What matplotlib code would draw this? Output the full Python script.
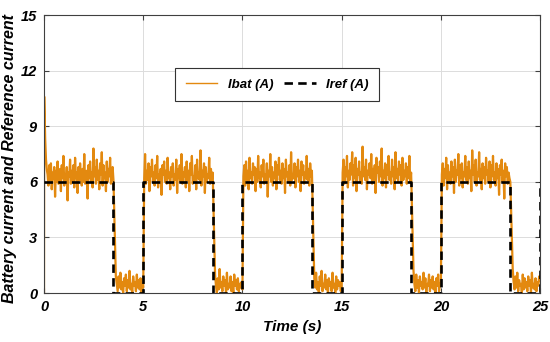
import numpy as np
import matplotlib
matplotlib.use('Agg')
import matplotlib.pyplot as plt

plt.rcParams['font.family'] = ['Liberation Sans', 'DejaVu Sans']
plt.rcParams['font.weight'] = 'bold'
plt.rcParams['font.style'] = 'italic'
plt.rcParams['axes.labelweight'] = 'bold'

# ---------------- data
t_start = [0.0, 0.01, 0.03, 0.06, 0.10, 0.15]
i_start = [0.0, 10.6, 9.7, 8.3, 7.2, 6.6]

ibat_hi = [
    [6.4, 5.8, 6.9, 6.1, 7.0, 5.6, 6.5, 6.2, 6.8, 5.2, 6.6, 6.0, 7.1, 5.9, 6.3, 6.7,
     5.5, 6.9, 6.2, 7.4, 5.8, 6.4, 6.1, 6.8, 5.0, 6.5, 6.3, 7.2, 5.9, 6.6, 6.0, 6.9,
     5.7, 7.3, 6.2, 6.5, 5.4, 6.8, 6.1, 7.0, 6.3, 5.8, 6.7, 6.0, 7.5, 5.9, 6.4, 6.6,
     5.1, 6.9, 6.2, 7.1, 6.0, 6.5, 5.7, 7.8, 6.3, 6.8, 5.9, 7.2, 6.1, 6.6, 5.6, 7.0,
     6.4, 7.6, 5.8, 6.9, 6.2, 6.5, 5.5, 7.1, 6.0, 6.7, 6.3, 7.3, 5.9, 6.4, 6.8, 6.1],
    [6.2, 7.5, 5.9, 6.6, 6.1, 7.0, 5.5, 6.8, 6.3, 7.2, 6.0, 6.5, 5.8, 6.9, 6.2, 7.4,
     5.7, 6.4, 6.1, 6.7, 5.3, 6.9, 6.4, 7.1, 6.0, 6.6, 5.9, 7.3, 6.2, 6.5, 5.6, 6.8,
     6.3, 7.0, 5.8, 6.4, 6.1, 7.2, 5.4, 6.7, 6.2, 6.9, 6.0, 7.5, 5.9, 6.5, 6.3, 6.8,
     5.7, 7.1, 6.1, 6.6, 5.5, 7.0, 6.4, 7.4, 5.9, 6.3, 6.0, 6.9, 5.6, 7.2, 6.2, 6.5,
     6.1, 7.7, 5.8, 6.6, 6.3, 7.0, 5.4, 6.8, 6.0, 6.4, 6.2, 7.3, 5.9, 6.7, 6.1, 6.5],
    [6.3, 6.9, 5.8, 7.1, 6.1, 6.6, 5.6, 7.3, 6.2, 6.5, 5.9, 7.0, 6.4, 6.8, 5.5, 6.7,
     6.0, 7.4, 6.2, 6.5, 5.7, 6.9, 6.3, 7.2, 5.9, 6.4, 6.1, 7.0, 5.2, 6.6, 6.3, 7.5,
     6.0, 6.8, 5.8, 6.5, 6.2, 7.1, 5.6, 6.9, 6.4, 7.3, 6.1, 6.6, 5.9, 7.0, 6.2, 6.7,
     5.4, 7.2, 6.3, 6.5, 6.0, 6.9, 5.8, 7.6, 6.1, 6.4, 6.2, 7.0, 5.7, 6.8, 6.3, 7.2,
     6.0, 6.6, 5.5, 7.1, 6.4, 6.9, 5.9, 6.5, 6.2, 7.4, 6.1, 6.7, 5.8, 7.0, 6.3, 6.6],
    [6.5, 7.2, 5.9, 6.8, 6.3, 7.4, 5.7, 6.6, 6.1, 7.0, 6.4, 7.6, 5.8, 6.9, 6.2, 7.3,
     5.5, 6.7, 6.4, 7.1, 6.0, 6.5, 5.9, 7.9, 6.3, 6.8, 6.1, 7.2, 5.6, 6.6, 6.4, 7.0,
     6.2, 7.5, 5.9, 6.7, 6.1, 6.9, 5.4, 7.3, 6.5, 6.8, 6.0, 7.1, 6.3, 7.8, 5.8, 6.6,
     6.2, 7.0, 5.7, 6.9, 6.4, 7.4, 6.1, 6.5, 5.9, 7.2, 6.3, 6.8, 5.6, 7.6, 6.2, 6.7,
     6.0, 7.1, 6.4, 6.9, 5.8, 7.3, 6.1, 6.6, 6.3, 7.0, 5.9, 6.8, 6.2, 7.4, 6.0, 6.5],
    [6.4, 7.0, 5.8, 6.7, 6.2, 7.3, 5.6, 6.9, 6.1, 6.5, 5.9, 7.1, 6.3, 6.8, 5.4, 7.2,
     6.0, 6.6, 6.4, 7.5, 5.8, 6.9, 6.2, 7.0, 5.7, 6.5, 6.3, 7.4, 6.1, 6.8, 5.9, 7.1,
     6.2, 6.6, 5.5, 7.7, 6.4, 6.9, 6.0, 7.2, 5.8, 6.5, 6.3, 7.6, 6.1, 6.7, 5.6, 7.0,
     6.2, 6.8, 5.9, 7.3, 6.4, 6.6, 6.0, 7.1, 5.7, 6.9, 6.3, 7.4, 6.1, 6.5, 5.8, 7.0,
     6.2, 6.7, 5.3, 6.9, 6.4, 7.2, 6.0, 6.6, 5.1, 7.0, 6.3, 6.8, 5.9, 6.5, 6.2, 6.0],
]

ibat_lo = [
    [0.9, 0.5, 0.1, 0.9, 0.3, 1.1, 0.2, 0.6, 0.0, 0.8, 0.4, 1.0, 0.1, 0.7, 0.3, 1.2,
     0.2, 0.5, 0.0, 0.9, 0.4, 0.6, 0.1, 1.0, 0.3, 0.7, 0.2, 0.8, 0.0, 0.5, 0.3],
    [1.0, 0.4, 0.0, 0.8, 0.2, 1.3, 0.3, 0.6, 0.1, 0.9, 0.4, 0.7, 0.0, 1.1, 0.2, 0.5,
     0.3, 0.9, 0.1, 0.6, 0.0, 1.0, 0.4, 0.7, 0.2, 0.8, 0.1, 0.5, 0.3, 0.6, 0.2],
    [0.8, 0.3, 1.1, 0.2, 0.6, 0.0, 0.9, 0.4, 1.2, 0.1, 0.5, 0.3, 1.0, 0.2, 0.7, 0.0,
     0.8, 0.4, 0.6, 0.1, 1.1, 0.3, 0.5, 0.0, 0.9, 0.2, 0.7, 0.4, 0.6, 0.1, 0.3],
    [1.2, 0.5, 0.1, 1.0, 0.3, 0.7, 0.0, 0.9, 0.4, 0.6, 0.2, 1.1, 0.3, 0.8, 0.0, 0.5,
     0.4, 1.0, 0.1, 0.7, 0.3, 0.9, 0.2, 0.6, 0.0, 0.8, 0.4, 1.0, 0.1, 0.5, 0.4],
    [1.3, 0.6, 0.2, 0.9, 0.3, 1.1, 0.1, 0.7, 0.4, 0.5, 0.0, 1.0, 0.2, 0.8, 0.3, 0.6,
     0.1, 0.9, 0.4, 0.7, 0.0, 1.1, 0.3, 0.5, 0.2, 0.8, 0.1, 0.6, 0.4, 0.9, 0.7],
]

t_ref = [0, 3.5, 5, 8.5, 10, 13.5, 15, 18.5, 20, 23.5, 25]
i_ref = [6, 0, 6, 0, 6, 0, 6, 0, 6, 0, 6]

# ---------------- build Ibat trace
t_log = list(t_start)
y_log = list(i_start)
for k in range(5):
    t0 = 5.0 * k
    hi = ibat_hi[k]
    lo = ibat_lo[k]
    ts = t0 + (0.18 if k == 0 else 0.05)
    t_log += list(np.linspace(ts, t0 + 3.5, len(hi)))
    y_log += hi
    t_log += list(np.linspace(t0 + 3.62, t0 + 5.0, len(lo)))
    y_log += lo

# ---------------- figure
fig = plt.figure(figsize=(5.5, 3.42), dpi=100)
ax0 = fig.add_axes([0.08, 0.143, 0.902, 0.813])

ax0.plot(t_log, y_log, '-', color='#E3890F', lw=1.6, label='Ibat (A)', zorder=2)
ax0.plot(t_ref, i_ref, '-k', lw=1.9, dashes=(3.2, 2.0), drawstyle='steps-post',
         label='Iref (A)', zorder=3)

ax0.set_xlim(0, 25)
ax0.set_ylim(0, 15)
ax0.set_xticks([0, 5, 10, 15, 20, 25])
ax0.set_yticks([0, 3, 6, 9, 12, 15])
ax0.grid(True, color='#dcdcdc', lw=0.7)
ax0.set_axisbelow(True)

for sp in ax0.spines.values():
    sp.set_color('#404040')
    sp.set_linewidth(0.8)
ax0.tick_params(direction='in', length=3.5, width=0.8, color='#404040',
                labelsize=10.5, top=True, right=True, pad=5)

ax0.set_xlabel('Time (s)', fontsize=11, fontweight='bold', labelpad=4)
ax0.set_ylabel('Battery current and Reference current', fontsize=11.5,
               fontweight='bold')
ax0.yaxis.set_label_coords(-0.055, 0.484)

leg = ax0.legend(loc='center', ncol=2, bbox_to_anchor=(0.47, 0.75), fontsize=9.5,
                 frameon=True, fancybox=False, framealpha=1.0, edgecolor='#333333',
                 handlelength=2.4, columnspacing=0.8, borderpad=0.8)
leg.get_frame().set_linewidth(0.8)
leg.get_lines()[0].set_linewidth(1.0)

plt.savefig('out.png', dpi=100)
